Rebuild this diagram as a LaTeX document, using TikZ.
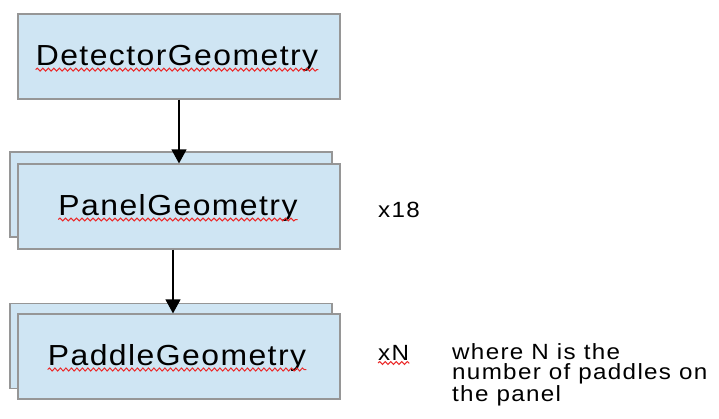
\documentclass[tikz,border=0pt]{standalone}
\usepackage{fontspec}
\setmainfont{Liberation Sans}
\newfontfamily\boxfont[LetterSpace=5,FakeStretch=1.1]{Liberation Sans}
\newfontfamily\notefont[LetterSpace=6,FakeStretch=1.1]{Liberation Sans}
\usetikzlibrary{arrows.meta,decorations.pathmorphing}
\definecolor{boxfill}{RGB}{207,229,243}
\definecolor{boxline}{RGB}{150,150,150}
\definecolor{squig}{RGB}{235,40,40}
\tikzset{
  geobox/.style={draw=boxline, fill=boxfill, line width=1.2pt, minimum width=322pt, minimum height=85pt, inner sep=0pt},
  boxtext/.style={inner sep=0pt, font=\boxfont\fontsize{29}{32}\selectfont},
  notetext/.style={inner sep=0pt, font=\notefont\fontsize{22}{20.5}\selectfont},
  link/.style={line width=1.2pt, -{Triangle[length=14pt,width=15pt]}},
  squiggle/.style={draw=squig, line width=1pt, decorate, decoration={snake, amplitude=1.5pt, segment length=5.5pt}}
}
\begin{document}
\begin{tikzpicture}[x=1pt,y=-1pt]
\useasboundingbox (0,0) rectangle (719,418);
% boxes
\node[geobox] (det) at (179,56.5) {};
\node[geobox] (panback) at (171,194.5) {};
\node[geobox] (pan) at (179,206.5) {};
\node[geobox] (padback) at (171,346) {};
\node[geobox] (pad) at (179,356.5) {};
% texts
\node[boxtext] (dett) at (177,58) {DetectorGeometry};
\node[boxtext] (pant) at (178,207.5) {PanelGeometry};
\node[boxtext] (padt) at (177,357.5) {PaddleGeometry};
\draw[squiggle] ([yshift=-4.5pt]dett.base west) -- ([yshift=-4.5pt]dett.base east);
\draw[squiggle] ([yshift=-4.5pt]pant.base west) -- ([yshift=-4.5pt]pant.base east);
\draw[squiggle] ([yshift=-4.5pt]padt.base west) -- ([yshift=-4.5pt]padt.base east);
% arrows
\draw[link] (det.south) -- (pan.north);
\draw[link] ([xshift=-6pt]pan.south) -- ([xshift=-6pt]pad.north);
% notes
\node[notetext, anchor=base west] (n18) at (378,217) {x18};
\node[notetext, anchor=base west] (nN) at (378,360) {xN};
\draw[squiggle] ([yshift=-3pt]nN.base west) -- ([yshift=-3pt]nN.base east);
\node[notetext, anchor=north west, align=left] (desc) at (452,343) {where N is the\\number of paddles on\\the panel};
\end{tikzpicture}
\end{document}
